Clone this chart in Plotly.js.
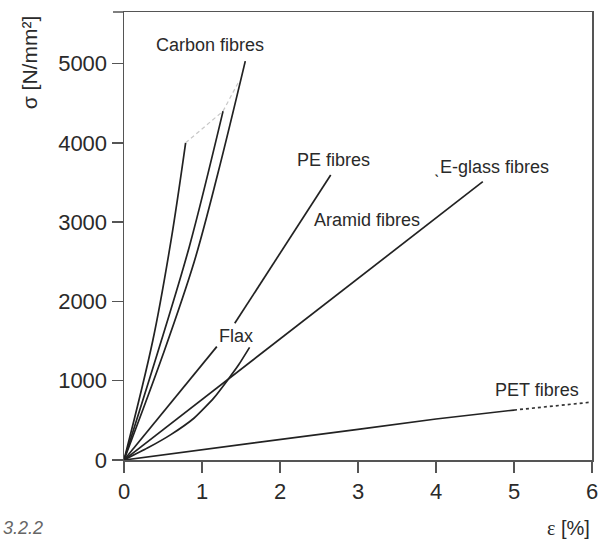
<!DOCTYPE html>
<html>
<head>
<meta charset="utf-8">
<script src="https://cdn.plot.ly/plotly-3.0.1.min.js"></script>
<style>html,body{margin:0;padding:0;background:#fff;}#chart{width:600px;height:542px;}</style>
</head>
<body>
<div id="chart"></div>
<script>
// strain in %, stress in N/mm2
const carbon1X = [0, 0.37, 0.60, 0.79];
const carbon1Y = [0, 1510, 2750, 4000];
const carbon2X = [0, 0.48, 0.84, 1.27];
const carbon2Y = [0, 1510, 2700, 4400];
const carbon3X = [0, 0.5, 0.9, 1.2, 1.555];
const carbon3Y = [0, 1330, 2500, 3600, 5030];
const carbonEnvX = [0.79, 1.27, 1.47];
const carbonEnvY = [4000, 4400, 4770];
const peX = [0, 1.19, null, 1.42, 2.65];
const peY = [0, 1430, null, 1724, 3594];
const glassX = [0, 2.0, 4.6];
const glassY = [0, 1522, 3510];
const flaxX = [0, 0.3, 0.6, 0.9, 1.15, 1.33, 1.47, 1.61];
const flaxY = [0, 150, 320, 530, 780, 1010, 1200, 1420];
const petX = [0, 1, 2, 3, 4, 5];
const petY = [0, 132, 262, 387, 517, 630];
const petExtX = [5, 5.97];
const petExtY = [630, 727];

const xTicks = [0, 1, 2, 3, 4, 5, 6];
const yTicks = [0, 1000, 2000, 3000, 4000, 5000];

const labels = ["Carbon fibres", "PE fibres", "ˎE-glass fibres", "Aramid fibres", "Flax", "PET fibres"];
const labelX = [0.385, 2.192, 3.949, 2.406, 1.188, 4.727];
const labelY = [5240, 3783, 3695, 3026, 1564, 889];

const FONT = '"Liberation Sans", Arial, Helvetica, sans-serif';
const lineStyle = {color: '#222', width: 1.7};

function tr(x, y, line) {
  return {x: x, y: y, type: 'scatter', mode: 'lines', line: line, hoverinfo: 'skip', showlegend: false, connectgaps: false};
}

const data = [
  tr(carbon1X, carbon1Y, Object.assign({shape: 'spline', smoothing: 1}, lineStyle)),
  tr(carbon2X, carbon2Y, Object.assign({shape: 'spline', smoothing: 1}, lineStyle)),
  tr(carbon3X, carbon3Y, Object.assign({shape: 'spline', smoothing: 1}, lineStyle)),
  tr(carbonEnvX, carbonEnvY, {color: '#c8c8c8', width: 1.2, dash: '4px,3px'}),
  tr(peX, peY, lineStyle),
  tr(glassX, glassY, lineStyle),
  tr(flaxX, flaxY, Object.assign({shape: 'spline', smoothing: 0.5}, lineStyle)),
  tr(petX, petY, lineStyle),
  tr(petExtX, petExtY, {color: '#333', width: 1.7, dash: 'dot'})
];

const annotations = labels.map((t, i) => ({
  text: t, x: labelX[i], y: labelY[i], xref: 'x', yref: 'y',
  xanchor: 'left', yanchor: 'middle', showarrow: false,
  font: {family: FONT, size: 18, color: '#2a2a2a'}
}));

annotations.push({
  text: 'σ [N/mm²]', xref: 'paper', yref: 'paper', x: -0.203, y: 0.888,
  textangle: -90, xanchor: 'center', yanchor: 'middle', showarrow: false,
  font: {family: FONT, size: 21, color: '#2a2a2a'}
});
annotations.push({
  text: '<span style="font-family:\'Liberation Serif\',serif">ε</span> [%]', xref: 'paper', yref: 'paper', x: 1.0, y: -0.152,
  xanchor: 'right', yanchor: 'middle', showarrow: false,
  font: {family: FONT, size: 20, color: '#2a2a2a'}
});
annotations.push({
  text: '<i>3.2.2</i>', xref: 'paper', yref: 'paper', x: -0.2635, y: -0.152,
  xanchor: 'left', yanchor: 'middle', showarrow: false,
  font: {family: FONT, size: 18, color: '#666'}
});

const axisCommon = {
  showgrid: false, zeroline: false, showline: true, linecolor: '#555', linewidth: 1.5,
  mirror: true, ticks: 'outside', ticklen: 11, tickwidth: 1.5, tickcolor: '#555',
  tickfont: {family: FONT, size: 22, color: '#2a2a2a'}, fixedrange: true
};

const layout = {
  width: 600, height: 542,
  margin: {l: 124, r: 8, t: 12, b: 82},
  paper_bgcolor: '#fff', plot_bgcolor: '#fff',
  showlegend: false,
  xaxis: Object.assign({}, axisCommon, {range: [0, 6], tickvals: xTicks, ticktext: xTicks.map(String)}),
  yaxis: Object.assign({}, axisCommon, {range: [0, 5650], tickvals: yTicks, ticktext: yTicks.map(String)}),
  annotations: annotations,
  shapes: [{type: 'line', xref: 'paper', yref: 'paper', x0: -0.0235, x1: 0, y0: 1, y1: 1, line: {color: '#555', width: 1.5}}]
};

Plotly.newPlot('chart', data, layout, {staticPlot: true, displayModeBar: false});
</script>
</body>
</html>
